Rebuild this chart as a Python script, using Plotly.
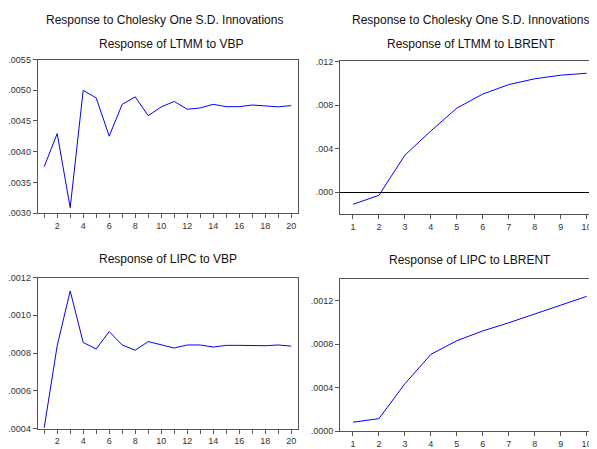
import plotly.graph_objects as go

# Data
periods20 = list(range(1, 21))
periods10 = list(range(1, 11))
ltmm_vbp = [0.003756, 0.004295, 0.00309, 0.004998, 0.004876, 0.004253, 0.004771, 0.004892,
            0.004586, 0.004728, 0.004818, 0.004691, 0.004712, 0.004771, 0.004733, 0.004733,
            0.00476, 0.00475, 0.00473, 0.00475]
ltmm_lbrent = [-0.0011, -0.00027, 0.00341, 0.00563, 0.00772, 0.00901, 0.00988, 0.01041,
               0.01074, 0.01092]
lipc_vbp = [0.000405, 0.000839, 0.001129, 0.000856, 0.000822, 0.000914, 0.000843, 0.000815,
            0.000861, 0.000843, 0.000827, 0.000843, 0.000843, 0.000832, 0.000841, 0.000841,
            0.000839, 0.000839, 0.000843, 0.000837]
lipc_lbrent = [0.000081, 0.000114, 0.000435, 0.000705, 0.000831, 0.000921, 0.000996,
               0.001074, 0.001158, 0.001239]

main_title = "Response to Cholesky One S.D. Innovations"
sub_titles = ["Response of LTMM to VBP", "Response of LTMM to LBRENT",
              "Response of LIPC to VBP", "Response of LIPC to LBRENT"]

y1_ticks = [0.0030, 0.0035, 0.0040, 0.0045, 0.0050, 0.0055]
y1_labels = [".0030", ".0035", ".0040", ".0045", ".0050", ".0055"]
y2_ticks = [0.000, 0.004, 0.008, 0.012]
y2_labels = [".000", ".004", ".008", ".012"]
y3_ticks = [0.0004, 0.0006, 0.0008, 0.0010, 0.0012]
y3_labels = [".0004", ".0006", ".0008", ".0010", ".0012"]
y4_ticks = [0.0000, 0.0004, 0.0008, 0.0012]
y4_labels = [".0000", ".0004", ".0008", ".0012"]

# page body has an 8px margin: the figure is drawn offset by it
OFF = 8
W, H = 597 - OFF, 449 - OFF
FONT = "Arial, Liberation Sans, sans-serif"
LINE = "#0000FF"
AX = "#555555"

fig = go.Figure()
fig.add_trace(go.Scatter(x=periods20, y=ltmm_vbp, mode="lines", line=dict(color=LINE, width=1),
                         xaxis="x", yaxis="y", showlegend=False))
fig.add_trace(go.Scatter(x=periods10, y=ltmm_lbrent, mode="lines", line=dict(color=LINE, width=1),
                         xaxis="x2", yaxis="y2", showlegend=False))
fig.add_trace(go.Scatter(x=periods20, y=lipc_vbp, mode="lines", line=dict(color=LINE, width=1),
                         xaxis="x3", yaxis="y3", showlegend=False))
fig.add_trace(go.Scatter(x=periods10, y=lipc_lbrent, mode="lines", line=dict(color=LINE, width=1),
                         xaxis="x4", yaxis="y4", showlegend=False))

def px_x(a, b):
    return [(a - OFF) / W, min((b - OFF) / W, 1.0)]

def px_y(top, bottom):
    return [1 - (bottom - OFF) / H, 1 - (top - OFF) / H]

tickfont = dict(family=FONT, size=9, color="#333333")

def xax(domain, anchor, rng, left):
    d = dict(domain=domain, anchor=anchor, range=rng, showgrid=False, zeroline=False,
             showline=True, linecolor=AX, linewidth=1, mirror=True,
             ticks="outside", ticklen=4, tickcolor=AX, tickfont=tickfont,
             ticklabeloverflow="allow")
    if left:
        d.update(tickvals=list(range(2, 21, 2)), ticktext=[str(v) for v in range(2, 21, 2)],
                 minor=dict(ticks="outside", ticklen=4, tickcolor=AX, tickvals=list(range(1, 21, 2)), showgrid=False))
    else:
        d.update(tickvals=list(range(1, 11)), ticktext=[str(v) for v in range(1, 11)])
    return d

def yax(domain, anchor, rng, tv, tt, mirror=True, zl=False):
    return dict(domain=domain, anchor=anchor, range=rng, showgrid=False,
                zeroline=zl, zerolinecolor="#000000", zerolinewidth=1,
                showline=True, linecolor=AX, linewidth=1, mirror=mirror,
                ticks="outside", ticklen=4, tickcolor=AX, tickfont=tickfont,
                tickvals=tv, ticktext=tt)

d_tl_x, d_tl_y = px_x(37.7, 297.7), px_y(55.7, 213.3)
d_tr_x, d_tr_y = px_x(340, 597), px_y(57.7, 214.3)
d_bl_x, d_bl_y = px_x(37.7, 297.7), px_y(279.3, 434.3)
d_br_x, d_br_y = px_x(340, 597), px_y(280.7, 436.7)

fig.update_layout(
    width=W, height=H,
    margin=dict(l=0, r=0, t=0, b=0),
    paper_bgcolor="white", plot_bgcolor="white",
    xaxis=xax(d_tl_x, "y", [0.5, 20.5], True),
    yaxis=yax(d_tl_y, "x", [0.0030, 0.0055], y1_ticks, y1_labels),
    xaxis2=xax(d_tr_x, "y2", [0.5, 10.4], False),
    yaxis2=yax(d_tr_y, "x2", [-0.002, 0.012], y2_ticks, y2_labels, mirror=False, zl=True),
    xaxis3=xax(d_bl_x, "y3", [0.5, 20.5], True),
    yaxis3=yax(d_bl_y, "x3", [0.0004, 0.0012], y3_ticks, y3_labels),
    xaxis4=xax(d_br_x, "y4", [0.5, 10.4], False),
    yaxis4=yax(d_br_y, "x4", [0.0, 0.0014], y4_ticks, y4_labels, mirror=False),
)

def ann(text, cx, cy):
    fig.add_annotation(text=text, x=(cx - OFF) / W, y=1 - (cy - OFF) / H, xref="paper", yref="paper",
                       showarrow=False, xanchor="center", yanchor="middle",
                       font=dict(family=FONT, size=12, color="#111111"))

ann(main_title, 164, 15)
ann(main_title, 470, 15)
ann(sub_titles[0], 171, 40)
ann(sub_titles[1], 471, 40)
ann(sub_titles[2], 168, 260)
ann(sub_titles[3], 470, 261.5)

fig.write_html("out.html")
